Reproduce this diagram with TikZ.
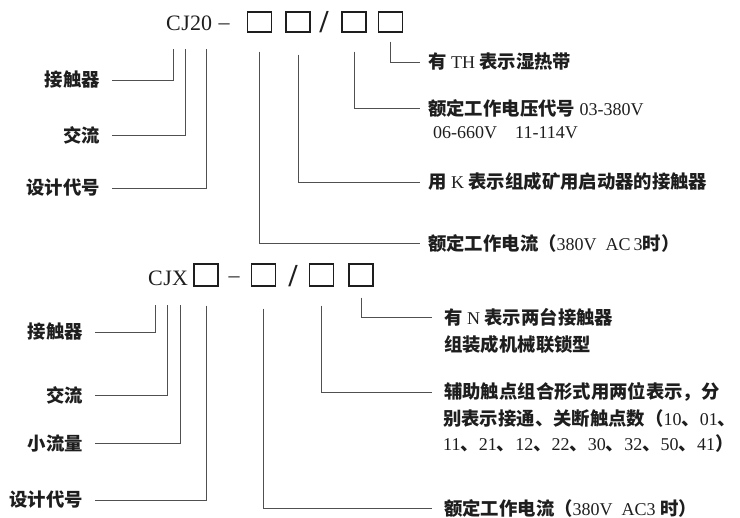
\documentclass[tikz,border=0pt]{standalone}
\usepackage{fontspec}
\setmainfont{Liberation Serif}
\newfontfamily\cjk{Noto Sans CJK SC}[Scale=1.02]
\usetikzlibrary{positioning,calc}
\definecolor{cink}{HTML}{1E1E1E}
\definecolor{cline}{HTML}{505050}
\newcommand{\zh}[1]{{\cjk\bfseries #1}}
\tikzset{
  code/.style={inner sep=0pt, font=\fontsize{22}{24}\selectfont, text=cink},
  slot/.style={draw=cink, line width=1.5pt, minimum width=24pt,
               minimum height=20pt, inner sep=0pt},
  llab/.style={anchor=east, inner xsep=12pt, inner ysep=0pt,
               font=\fontsize{18}{22}\selectfont, text=cink},
  rlab/.style={anchor=west, inner xsep=8pt, inner ysep=0pt,
               font=\fontsize{18}{22}\selectfont, text=cink},
  lead/.style={draw=cline, line width=0.9pt},
}

\begin{document}
\begin{tikzpicture}[x=1pt, y=-1pt]
  \useasboundingbox (0,0) rectangle (740,518);

  % CJ20 row
  \node[code, anchor=base west] (c1) at (166,31) {C};
  \node[code, anchor=base west] (j1) at (c1.base east) {J};
  \node[code, anchor=base west] (n1) at (j1.base east) {20};
  \node[code] (d1) at (224,27) {--};
  \node[slot] (s1) at (259.5,22) {};
  \node[slot] (s2) at (298,22) {};
  \node[code, font=\fontsize{32}{32}\selectfont\bfseries] (sl1) at (324,22) {/};
  \node[slot] (s3) at (354,22) {};
  \node[slot] (s4) at (390.5,22) {};

  \node[llab] (a1) at (112,80) {\zh{接触器}};
  \node[llab] (a2) at (112,135) {\zh{交流}};
  \node[llab] (a3) at (112,188) {\zh{设计代号}};

  \node[rlab] (r4) at (420,62) {\zh{有} TH \zh{表示湿热带}};
  \node[rlab] (r3) at (420,108) {\zh{额定工作电压代号} 03-380V};
  \node[rlab] (r3b) at (425,133) {06-660V\quad 11-114V};
  \node[rlab] (r2) at (420,182) {\zh{用} K \zh{表示组成矿用启动器的接触器}};
  \node[rlab] (r1) at (420,243) {\zh{额定工作电流（}380V\ \ AC\,3\zh{时）}};

  \draw[lead] ([yshift=-18pt]c1.south) |- (a1.east);
  \draw[lead] ([yshift=-18pt]j1.south) |- (a2.east);
  \draw[lead] ([yshift=-18pt]$(n1.south)!0.5!(n1.south east)$) |- (a3.east);
  \draw[lead] ([yshift=-19pt]s1.south) |- (r1.west);
  \draw[lead] ([yshift=-22pt]s2.south) |- (r2.west);
  \draw[lead] ([yshift=-19pt]s3.south) |- (r3.west);
  \draw[lead] ([yshift=-9pt]s4.south) |- (r4.west);

  % CJX row
  \node[code, anchor=base west] (c2) at (148,286) {C};
  \node[code, anchor=base west] (j2) at (c2.base east) {J};
  \node[code, anchor=base west] (x2) at (j2.base east) {X};
  \node[slot, minimum height=22pt] (t1) at (206,275) {};
  \node[code] (d2) at (234,280) {--};
  \node[slot, minimum height=22pt] (t2) at (263.5,275) {};
  \node[code, font=\fontsize{32}{32}\selectfont\bfseries] (sl2) at (293,276) {/};
  \node[slot, minimum height=22pt] (t3) at (321.5,275) {};
  \node[slot, minimum height=22pt] (t4) at (361,275) {};

  \node[llab] (b1) at (95,332) {\zh{接触器}};
  \node[llab] (b2) at (95,395) {\zh{交流}};
  \node[llab] (b3) at (95,443) {\zh{小流量}};
  \node[llab] (b4) at (95,500) {\zh{设计代号}};

  \node[rlab, inner xsep=12pt] (q4) at (432,317) {\zh{有} N \zh{表示两台接触器}};
  \node[rlab, inner xsep=12pt] (q4b) at (432,345) {\zh{组装成机械联锁型}};
  \node[rlab, inner xsep=12pt] (q3) at (432,392) {\zh{辅助触点组合形式用两位表示，分}};
  \node[rlab, inner xsep=0pt] (q3b) at (443,419)
    {\zh{别表示接通、关断触点数（}10\zh{、}01\zh{、}};
  \node[rlab, inner xsep=0pt] (q3c) at (443,444)
    {11\zh{、}21\zh{、}12\zh{、}22\zh{、}30\zh{、}32\zh{、}50\zh{、}41\zh{）}};
  \node[rlab, inner xsep=12pt] (q1) at (432,508) {\zh{额定工作电流（}380V\ \ AC3 \zh{时）}};

  \draw[lead] ([yshift=-19pt]c2.south) |- (b1.east);
  \draw[lead] ([yshift=-19pt]j2.south) |- (b2.east);
  \draw[lead] ([yshift=-19pt]x2.south) |- (b3.east);
  \draw[lead] ([yshift=-19pt]t1.south) |- (b4.east);
  \draw[lead] ([yshift=-22pt]t2.south) |- (q1.west);
  \draw[lead] ([yshift=-19pt]t3.south) |- (q3.west);
  \draw[lead] ([yshift=-11pt]t4.south) |- (q4.west);
\end{tikzpicture}
\end{document}
